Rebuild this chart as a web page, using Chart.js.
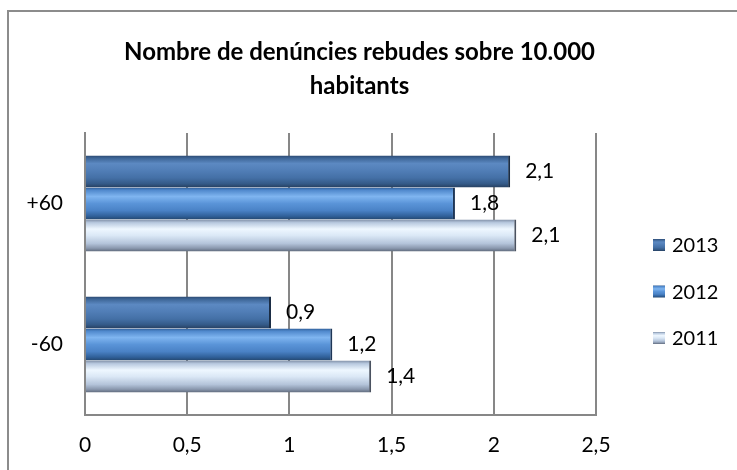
<!DOCTYPE html>
<html>
<head>
<meta charset="utf-8">
<title>Denúncies</title>
<script src="https://cdn.jsdelivr.net/npm/chart.js@4.4.1/dist/chart.umd.min.js"></script>
<style>
  html, body { margin: 0; padding: 0; background: #fff; }
  #grafic { display: block; }
</style>
</head>
<body>
<canvas id="grafic" width="737" height="470"></canvas>
<script>
// dades llegides del gràfic original
const categories = ['+60', '-60'];
const years = ['2013', '2012', '2011'];
const values2013 = [2.08, 0.91];
const values2012 = [1.81, 1.21];
const values2011 = [2.11, 1.40];
const xTicks = [0, 0.5, 1, 1.5, 2, 2.5];
const titleLines = ['Nombre de denúncies rebudes sobre 10.000', 'habitants'];

const FONT = 'Lato, "Open Sans", sans-serif';
const GRID = '#878787';

// colors amb efecte de bisell (de dalt a baix)
const bevel2013 = [[0, '#2c4a72'], [0.08, '#3d6596'], [0.25, '#5c89c2'], [0.45, '#527fb8'], [0.7, '#4470a6'], [0.88, '#345a88'], [1, '#263f60']];
const bevel2012 = [[0, '#2f5d96'], [0.08, '#4f88cc'], [0.28, '#7fb5f0'], [0.5, '#5a94d8'], [0.72, '#4a82c6'], [0.9, '#2f5f98'], [1, '#24476f']];
const bevel2011 = [[0, '#7f8ea6'], [0.1, '#b8c9df'], [0.3, '#eef7ff'], [0.5, '#dbe8f6'], [0.75, '#b4c4da'], [0.9, '#8a98ae'], [1, '#5f6a7c']];

function bevelFill(stops, flat) {
  return (c) => {
    const el = c.element;
    if (!el || !isFinite(el.y) || !isFinite(el.height) || el.height <= 0) return flat;
    const g = c.chart.ctx.createLinearGradient(0, el.y - el.height / 2, 0, el.y + el.height / 2);
    stops.forEach(([o, col]) => g.addColorStop(o, col));
    return g;
  };
}

const fmt = v => v.toFixed(1).replace('.', ',');

// marc gris del gràfic
const framePlugin = {
  id: 'frame',
  beforeDraw(chart) {
    const ctx = chart.ctx;
    ctx.save();
    ctx.fillStyle = '#fff';
    ctx.fillRect(0, 0, chart.width, chart.height);
    ctx.strokeStyle = '#8c8c8c';
    ctx.lineWidth = 2;
    ctx.strokeRect(8, 11, 1000, 1000);
    ctx.restore();
  }
};

// etiquetes de valor al final de cada barra
const valueLabels = {
  id: 'valueLabels',
  afterDatasetsDraw(chart) {
    const ctx = chart.ctx;
    ctx.save();
    ctx.font = '21px ' + FONT;
    ctx.fillStyle = '#000';
    ctx.textAlign = 'left';
    ctx.textBaseline = 'middle';
    chart.data.datasets.forEach((ds, i) => {
      chart.getDatasetMeta(i).data.forEach((bar, j) => {
        ctx.fillText(fmt(ds.data[j]), bar.x + 15, bar.y);
      });
    });
    ctx.restore();
  }
};

// llegenda a la dreta
const sideLegend = {
  id: 'sideLegend',
  afterDraw(chart) {
    const ctx = chart.ctx;
    const x = 653, y0 = 245, step = 46.5, box = 12;
    ctx.save();
    ctx.font = '20px ' + FONT;
    ctx.fillStyle = '#000';
    ctx.textBaseline = 'middle';
    chart.data.datasets.forEach((ds, i) => {
      const y = y0 + i * step;
      const g = ctx.createLinearGradient(0, y - box / 2, 0, y + box / 2);
      ds.bevel.forEach(([o, col]) => g.addColorStop(o, col));
      ctx.fillStyle = g;
      ctx.fillRect(x, y - box / 2, box, box);
      ctx.fillStyle = '#000';
      ctx.fillText(ds.label, x + 19, y + 1);
    });
    ctx.restore();
  }
};

const chart = new Chart(document.getElementById('grafic'), {
  type: 'bar',
  data: {
    labels: categories,
    datasets: [
      { label: years[0], data: values2013, bevel: bevel2013, backgroundColor: bevelFill(bevel2013, '#4a77b0'), borderColor: '#1b2d45' },
      { label: years[1], data: values2012, bevel: bevel2012, backgroundColor: bevelFill(bevel2012, '#4f88cc'), borderColor: '#1e3656' },
      { label: years[2], data: values2011, bevel: bevel2011, backgroundColor: bevelFill(bevel2011, '#c8d6e8'), borderColor: '#4a5260' }
    ]
  },
  options: {
    indexAxis: 'y',
    responsive: false,
    animation: false,
    events: [],
    datasets: {
      bar: {
        categoryPercentage: 0.68,
        barPercentage: 1,
        borderWidth: { top: 0, right: 2, bottom: 0, left: 0 },
        borderSkipped: false
      }
    },
    layout: { padding: { left: 0, right: 18, top: 12, bottom: 0 } },
    plugins: {
      legend: { display: false },
      tooltip: { enabled: false },
      title: {
        display: true,
        text: titleLines,
        color: '#000',
        font: { family: FONT, size: 24, weight: 'bold', lineHeight: '34px' },
        padding: { top: 23, bottom: 30 }
      }
    },
    scales: {
      x: {
        min: 0,
        max: 2.5,
        afterBuildTicks: s => { s.ticks = xTicks.map(v => ({ value: v })); },
        afterFit: s => { s.height = 55; },
        grid: { color: GRID, lineWidth: 2, drawTicks: false },
        border: { display: true, color: GRID, width: 2 },
        ticks: { color: '#000', padding: 18, font: { family: FONT, size: 21 }, callback: v => String(v).replace('.', ',') }
      },
      y: {
        afterFit: s => { s.width = 85; },
        grid: { display: false, drawTicks: false },
        border: { display: true, color: GRID, width: 2 },
        ticks: { color: '#000', padding: 22, font: { family: FONT, size: 21 } }
      },
      // espai buit on va la llegenda
      spacer: {
        type: 'linear',
        axis: 'y',
        position: 'right',
        grid: { display: false },
        border: { display: false },
        ticks: { display: false },
        afterFit: s => { s.width = 123; }
      }
    }
  },
  plugins: [framePlugin, valueLabels, sideLegend]
});

// segona passada perquè els degradats coneguin la mida de cada barra
chart.update('none');
</script>
</body>
</html>
